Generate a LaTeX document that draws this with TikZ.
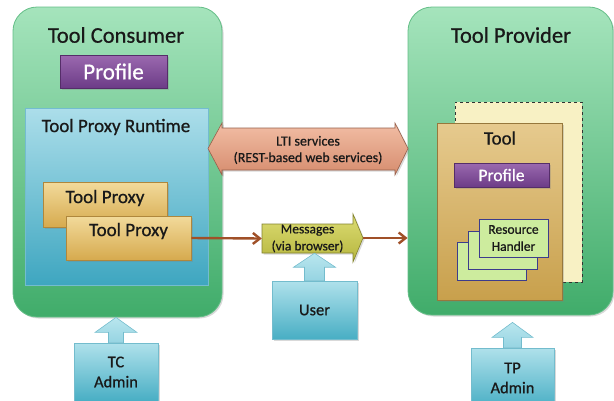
\documentclass[tikz,border=0pt]{standalone}
\usepackage{fontspec}
\setmainfont{Carlito}[FakeBold=0.7]
\usetikzlibrary{shadows,arrows.meta,calc}
\definecolor{grT}{RGB}{165,228,188}
\definecolor{grBo}{RGB}{64,172,106}
\definecolor{grD}{RGB}{100,190,135}
\definecolor{blT}{RGB}{172,222,234}
\definecolor{blBo}{RGB}{62,166,192}
\definecolor{blD}{RGB}{115,188,208}
\definecolor{tanT}{RGB}{242,218,155}
\definecolor{tanBo}{RGB}{214,170,78}
\definecolor{tanD}{RGB}{175,135,60}
\definecolor{puT}{RGB}{155,105,175}
\definecolor{puBo}{RGB}{108,60,135}
\definecolor{puD}{RGB}{85,45,105}
\definecolor{ltiT}{RGB}{242,190,165}
\definecolor{ltiBo}{RGB}{214,140,110}
\definecolor{ltiD}{RGB}{150,95,75}
\definecolor{msT}{RGB}{220,220,115}
\definecolor{msBo}{RGB}{182,182,62}
\definecolor{msD}{RGB}{130,130,45}
\definecolor{usT}{RGB}{175,225,235}
\definecolor{usBo}{RGB}{72,174,196}
\definecolor{usD}{RGB}{115,188,205}
\definecolor{arT}{RGB}{185,230,238}
\definecolor{arBo}{RGB}{150,212,226}
\definecolor{cream}{RGB}{248,241,196}
\definecolor{toolT}{RGB}{230,202,142}
\definecolor{toolBo}{RGB}{200,160,76}
\definecolor{toolD}{RGB}{150,120,60}
\definecolor{rhF}{RGB}{205,236,158}
\definecolor{rhD}{RGB}{60,60,140}
\definecolor{brn}{RGB}{160,80,40}
\definecolor{txt}{RGB}{25,25,25}
\newcommand\blockup[5]{%
  \draw[uparrow] ([xshift=-#3pt]#1.north) -- ([xshift=-#3pt,yshift=-#5pt]#2)
    -- ([xshift=-#4pt,yshift=-#5pt]#2) -- (#2) -- ([xshift=#4pt,yshift=-#5pt]#2)
    -- ([xshift=#3pt,yshift=-#5pt]#2) -- ([xshift=#3pt]#1.north) -- cycle;}
\begin{document}
\begin{tikzpicture}[x=1pt,y=-1pt,
  shad/.style={drop shadow={opacity=0.3,shadow xshift=1.5pt,shadow yshift=-1.5pt}},
  greenbox/.style={draw=grD,line width=0.8pt,top color=grT,bottom color=grBo,rounded corners=24pt,shad},
  bluebox/.style={draw=blD,line width=0.6pt,top color=blT,bottom color=blBo},
  tanbox/.style={draw=tanD,line width=0.6pt,top color=tanT,bottom color=tanBo,shad},
  profbox/.style={draw=puD,line width=0.6pt,top color=puT,bottom color=puBo,text=white,shad},
  toolbox/.style={draw=toolD,line width=0.6pt,top color=toolT,bottom color=toolBo,shad},
  backbox/.style={draw=black!80,dashed,line width=0.8pt,fill=cream},
  rhbox/.style={draw=rhD,line width=0.8pt,fill=rhF,align=center,text=txt,font=\fontsize{13.5}{17}\selectfont},
  userbox/.style={draw=usD,line width=0.6pt,top color=usT,bottom color=usBo,align=center,text=txt,font=\fontsize{16.5}{20}\selectfont,shad},
  uparrow/.style={draw=usD,line width=0.6pt,top color=arT,bottom color=arBo},
  lbl/.style={text=txt,inner sep=0pt,align=center},
  brownarr/.style={draw=brn,line width=2.4pt,-{Straight Barb[length=7pt,width=11pt,line width=2.4pt]}},
]
\useasboundingbox (0,0) rectangle (614,400);
\clip (0,0) rectangle (614,400);

% ---------- Tool Consumer ----------
\node[greenbox,minimum width=209pt,minimum height=310pt] (tc) at (117.5,162) {};
\node[lbl,font=\fontsize{22.5}{26}\selectfont] (tct) at (116,35) {Tool Consumer};
\node[profbox,minimum width=107pt,minimum height=33pt,font=\fontsize{23}{26}\selectfont] (tcp) at (113.5,71.5) {Profile};
\node[bluebox,minimum width=183pt,minimum height=177pt] (rt) at (116.5,196.5) {};
\node[lbl,font=\fontsize{19}{22}\selectfont] (rtt) at (116,127) {Tool Proxy Runtime};
\node[tanbox,minimum width=124pt,minimum height=45pt] (tp1) at (105,204.5) {};
\node[lbl,font=\fontsize{19}{22}\selectfont] (tp1t) at (105,198) {Tool Proxy};
\node[tanbox,minimum width=125pt,minimum height=44pt] (tp2) at (128.5,238) {};
\node[lbl,font=\fontsize{19}{22}\selectfont] (tp2t) at (128.5,231) {Tool Proxy};

% ---------- Tool Provider ----------
\node[greenbox,minimum width=205pt,minimum height=308pt] (rp) at (510.5,161) {};
\node[lbl,font=\fontsize{22.5}{26}\selectfont] (rpt) at (511,35) {Tool Provider};
\node[backbox,minimum width=127pt,minimum height=180pt] (bk) at (518.5,192) {};
\node[toolbox,minimum width=125pt,minimum height=177pt] (tool) at (499.5,211.5) {};
\node[lbl,font=\fontsize{19}{22}\selectfont] (toolt) at (500,138) {Tool};
\node[profbox,minimum width=95pt,minimum height=24pt,font=\fontsize{17.5}{20}\selectfont] (rpp) at (501.5,175) {Profile};
\node[rhbox,minimum width=69pt,minimum height=38pt] (rh3) at (491.5,261) {};
\node[rhbox,minimum width=69pt,minimum height=38pt] (rh2) at (502.5,250) {};
\node[rhbox,minimum width=69pt,minimum height=38pt] (rh1) at (513.5,238) {Resource\\Handler};

% ---------- LTI services ----------
\draw[draw=ltiD,line width=0.6pt,top color=ltiT,bottom color=ltiBo,shad]
  (208,148.5) -- (222,123) -- (222,128) -- (395,128) -- (395,123) -- (408,148.5)
  -- (395,175) -- (395,170) -- (222,170) -- (222,175) -- cycle;
\node[lbl,font=\fontsize{14}{16.5}\selectfont,minimum width=173pt,minimum height=42pt] (lti) at (308,150) {LTI services\\(REST-based web services)};

% ---------- Messages ----------
\draw[draw=msD,line width=0.6pt,top color=msT,bottom color=msBo,shad]
  (262,224) -- (353,224) -- (353,214) -- (363,238) -- (353,262) -- (353,253) -- (262,253) -- cycle;
\node[lbl,font=\fontsize{13.5}{17}\selectfont,minimum width=91pt,minimum height=29pt] (msg) at (307.5,238.5) {Messages\\(via browser)};
\coordinate (msgtip) at (363,238);

\draw[brownarr] (tp2.east) -- (msg.west);
\draw[brownarr] (msgtip) -- (msgtip -| rp.west);

% ---------- Actors ----------
\node[userbox,minimum width=85pt,minimum height=58pt] (user) at (314.5,310) {User};
\node[userbox,minimum width=84pt,minimum height=58pt] (tca) at (116,372) {TC\\Admin};
\node[userbox,minimum width=83pt,minimum height=60pt] (tpa) at (512.5,378) {TP\\Admin};

\coordinate (tcTip) at (tca.north |- tc.south);
\coordinate (usTip) at (user.north |- msg.south);
\coordinate (tpTip) at ($(tpa.north |- rp.south)+(0,7)$);

\blockup{tca}{tcTip}{7.5}{21}{15}
\blockup{user}{usTip}{10}{21}{14}
\blockup{tpa}{tpTip}{9}{20.5}{15}
\end{tikzpicture}
\end{document}
